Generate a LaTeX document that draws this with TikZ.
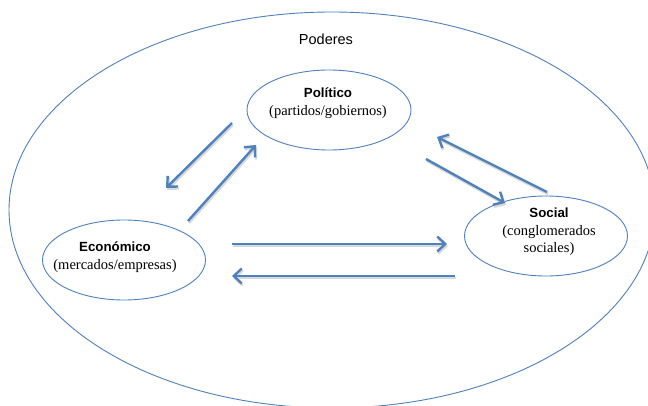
\documentclass[tikz,border=0pt]{standalone}
\usepackage{fontspec}
\setmainfont{Liberation Serif}
\setsansfont{Liberation Sans}
\usetikzlibrary{arrows.meta,shapes.geometric}
\definecolor{ob}{RGB}{79,129,189}
\begin{document}
\begin{tikzpicture}[x=1pt,y=-1pt,
  ell/.style={draw=ob, line width=0.9pt, ellipse, inner sep=0pt},
  lbl/.style={align=center, inner sep=0pt, font=\fontsize{14.5}{17.5}\selectfont},
  arr/.style={draw=ob, line width=2.4pt, -{Straight Barb[length=8pt,width=15pt]},
    preaction={draw=black!15, line width=2.4pt, -{Straight Barb[length=8pt,width=15pt]},
      transform canvas={shift={(1pt,-2pt)}}}}
]
\useasboundingbox (0,0) rectangle (648,406);
\fill[white] (0,0) rectangle (648,406);
\node[ell, minimum width=646pt, minimum height=396pt] (pod) at (332,210) {};
\node[inner sep=0pt, font=\sffamily\fontsize{14.5}{17}\selectfont] (podt) at (326,39) {Poderes};

\node[ell, minimum width=164pt, minimum height=80pt] (pol) at (329,110) {};
\node[lbl] (polt) at (328,103) {{\sffamily\bfseries\fontsize{13.3}{15}\selectfont Político}\\(partidos/gobiernos)};

\node[ell, minimum width=163pt, minimum height=80pt] (eco) at (124,260) {};
\node[lbl] (ecot) at (115,257) {{\sffamily\bfseries\fontsize{13.3}{15}\selectfont Económico}\\(mercados/empresas)};

\node[ell, minimum width=163pt, minimum height=80pt] (soc) at (546,236) {};
\node[lbl] (soct) at (549,232) {{\sffamily\bfseries\fontsize{13.3}{15}\selectfont Social}\\(conglomerados\\sociales)};

\coordinate (a1s) at (232,123); \coordinate (a1e) at (166,188);
\coordinate (a2s) at (188,221); \coordinate (a2e) at (256,145);
\coordinate (a3s) at (547,192); \coordinate (a3e) at (437,137);
\coordinate (a4s) at (426,159); \coordinate (a4e) at (505,203);
\coordinate (a5s) at (232,244); \coordinate (a5e) at (447,244);
\coordinate (a6s) at (455,276); \coordinate (a6e) at (232,276);

\draw[arr] (a1s) -- (a1e);
\draw[arr] (a2s) -- (a2e);
\draw[arr] (a3s) -- (a3e);
\draw[arr] (a4s) -- (a4e);
\draw[arr] (a5s) -- (a5e);
\draw[arr] (a6s) -- (a6e);
\end{tikzpicture}
\end{document}
